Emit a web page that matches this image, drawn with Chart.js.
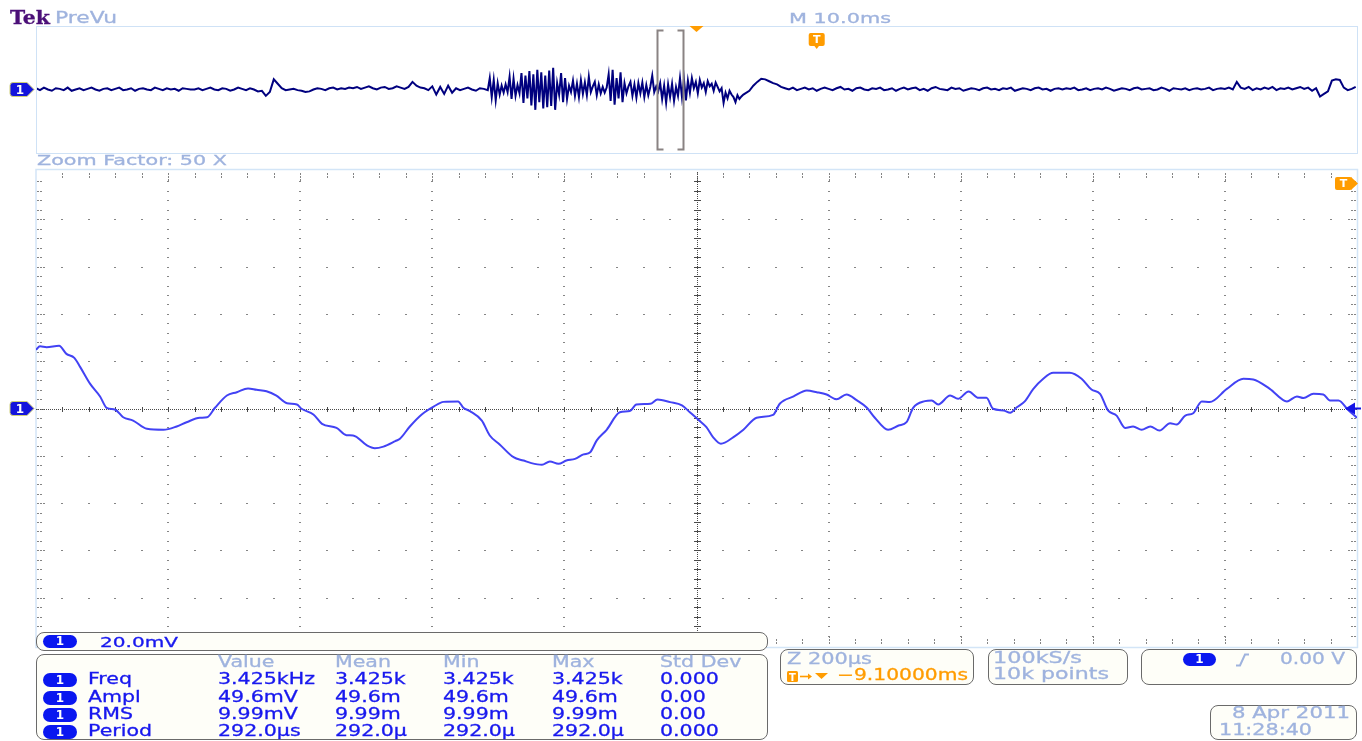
<!DOCTYPE html>
<html>
<head>
<meta charset="utf-8">
<script src="https://cdn.jsdelivr.net/npm/chart.js@4.4.0/dist/chart.umd.min.js"></script>
<style>
  body { margin: 0; background: #fff; width: 1362px; height: 741px; overflow: hidden; position: relative; font-family: 'DejaVu Sans', sans-serif; }
  canvas { position: absolute; left: 0; top: 0; }
  .box { position: absolute; border: 1.5px solid #6a6a6a; border-radius: 8px; background: #fefef8; box-sizing: border-box; }
  .txt { position: absolute; white-space: nowrap; transform-origin: 0 0; -webkit-text-stroke: 0.3px currentColor; }
  .pill { position: absolute; width: 34px; height: 14px; border-radius: 7px; background: #0a17f0; color: #fff; font: bold 12px 'DejaVu Sans', sans-serif; text-align: center; line-height: 14px; }
</style>
</head>
<body>
<canvas id="overview" width="1362" height="170"></canvas>
<canvas id="zoomed" width="1362" height="741"></canvas>
<div id="panel"></div>
<script>
// zoomed window, time in µs (200 µs/div), CH1 in mV (20 mV/div)
const zoomTimeUs = [
  -1000, -994, -984, -965, -954, -942, -933, -918, -903, -893,
  -880, -868, -853, -832, -807, -787, -772, -752, -741, -729,
  -711, -696, -679, -666, -651, -636, -620, -605, -598, -580,
  -567, -545, -530, -520, -499, -487, -474, -456, -449, -434,
  -416, -398, -383, -361, -353, -343, -325, -313, -298, -277,
  -262, -250, -234, -222, -209, -197, -184, -171, -161, -151,
  -136, -116, -101, -91, -70, -59, -40, -22, -10, 3,
  15, 25, 37, 56, 71, 91, 116, 126, 147, 167,
  182, 197, 212, 227, 243, 258, 270, 290, 306, 318,
  328, 346, 356, 366, 384, 396, 412, 427, 439, 449,
  465, 475, 485, 497, 510, 525, 540, 565, 583, 598,
  611, 623, 636, 649, 661, 674, 687, 701, 717, 727,
  740, 752, 765, 777, 803, 828, 843, 868, 894, 909,
  919, 934, 949, 959, 972, 987, 1000
];
const zoomMilliVolts = [
  24.8, 26.3, 25.9, 26.5, 23.1, 21.4, 17.5, 10.4, 5.1, 0.3,
  -0.5, -3.7, -5.1, -8.6, -9.0, -7.6, -5.8, -3.9, -3.7, 0.3,
  5.5, 6.9, 8.5, 7.9, 7.3, 5.4, 2.2, 1.7, -0.1, -2.5,
  -6.5, -8.2, -11.3, -11.4, -15.6, -16.8, -16.1, -13.8, -12.8, -7.6,
  -2.5, 0.8, 2.8, 3.0, 0.3, -1.1, -5.1, -11.4, -15.2, -20.6,
  -22.0, -23.1, -23.8, -22.4, -23.4, -22.0, -21.3, -19.4, -18.5, -13.5,
  -9.0, -1.6, -1.1, 1.7, 2.0, 3.8, 2.7, 1.3, -1.6, -4.8,
  -7.9, -12.1, -14.9, -12.1, -9.0, -3.9, -2.7, 2.0, 5.1, 7.6,
  6.9, 5.9, 3.9, 5.9, 3.4, 0.3, -3.9, -9.0, -7.2, -5.8,
  0.3, 3.1, 3.4, 1.7, 5.5, 4.1, 7.2, 4.5, 4.5, -0.1,
  -0.8, -1.8, 0.5, 3.0, 8.3, 12.6, 15.1, 15.1, 12.6, 8.0,
  6.2, -0.8, -3.0, -8.2, -7.6, -9.0, -7.6, -9.3, -6.2, -6.8,
  -3.0, -2.0, 3.0, 2.7, 8.3, 12.6, 12.3, 8.3, 3.0, 5.1,
  4.4, 6.2, 5.9, 3.4, 3.4, -0.8, -3.9
];

// full record (PreVu), ms from trigger, mV
const preStartMs = -59.1, preStepMs = 0.3;
const preMilliVolts = [
  2, -1, 3, 0, -2, 2, 1, -1, 3, -2, 0, 2, -1, 1, 3, 0, -2, 1, 2, -1,
  1, 3, -1, 0, 2, -2, 1, 2, 0, -1, 3, 1, -1, 2, 0, 1, -2, 2, 1, 0,
  0, 2, -1, 1, 3, 0, -1, 2, 1, -2, 0, 3, 1, -1, 2, 0, -3, -2, -10, -4,
  16, 9, 2, -1, 0, 1, -1, -2, -4, -3, 0, 2, 1, -1, 2, 3, 0, 2, 1, 3,
  2, 4, 1, 3, 5, 2, 0, 3, 4, 1, 2, 5, 3, 1, 4, 12, 6, 3, 2, -1,
  5, -8, 4, -7, 6, -5, 2, -1, 1, 3, 0, -2, 2, 1, -1
];
const burstStartMs = -24.75, burstStepMs = 0.15;
const burstMilliVolts = [
  18, -12, 15, -17, 10, -8, 6, -5, 8, -4,
  20, -15, 17, -10, 7, -6, 26, -21, 22, -14,
  29, -25, 24, -32, 31, -20, 27, -30, 22, -28, 30, -26, 34, -32,
  10, -8, 26, -20, 18, -15, 6, -4,
  14, -10, 9, -12, 15, -7, 11, -9, 20, -4, 5,
  12, -9, 8, -6, 4, -5, 3,
  24, -18, 31, -24, 18, -14, 27, -20, 10, -6, 5,
  12, -10, 8, -13, 10, -6, 11, -12, 7, -9, 4, 22, -4, 5, -3,
  10, -15, 6, -21, 8, -12, 9, -18, 4, -10,
  18, -12, 16, -17, 14,
  -5, 18, 2, 12, -6, 15, 3, 10, -4, 13, 5, 9, -2, 11, 4,
  -3, 2, -21, -5, -14, -2, -8, -12, -20, -9, -15, -11, -8
];
const postStartMs = -5.1, postStepMs = 0.3;
const postMilliVolts = [
  -2, 6, 12, 17, 16, 13, 10, 8, 4, 2, 0, 3, -1, 1, 3, 0, 2, -2, 1, 3,
  1, -1, 2, 4, 0, 1, -2, 2, 3, 0, -1, 2, 1, 3, -1, 0, 2, -2, 1, 3,
  0, 2, 3, -1, 1, -2, 2, 4, 1, 0, -1, 3, 1, 2, -2, 0, 2, 1, -1, 2,
  3, 0, 1, -1, 2, 1, 3, -2, 0, 2, 1, -1, 2, 3, 0, 1, -2, 1, 2, 0,
  2, 1, 3, -1, 0, 2, -1, 1, 2, 0, 3, 1, -2, 0, 2, 1, -1, 2, 3, 0,
  1, 2, -1, 0, 3, 1, -2, 2, 1, 0, 2, -1, 1, 2, 0, 1, 3, -1, 1, 2,
  1, 3, 0, 12, 3, 1, 4, -1, 2, 0, 3, 1, 4, -1, 2, 1, 3, 0, 2, 4,
  1, 3, -2, 2, -11, -7, -3, 14, 16, 15, 3, -1, 1, 4
];
const triggerMs = 0;
const zoomPositionMs = -9.1;
const zoomWindowMs = [-12.1, -10.1];

// measurement readout
const measNames = ['Freq', 'Ampl', 'RMS', 'Period'];
const measHeaders = ['Value', 'Mean', 'Min', 'Max', 'Std Dev'];
const measValue = ['3.425kHz', '49.6mV', '9.99mV', '292.0µs'];
const measMean = ['3.425k', '49.6m', '9.99m', '292.0µ'];
const measMin = ['3.425k', '49.6m', '9.99m', '292.0µ'];
const measMax = ['3.425k', '49.6m', '9.99m', '292.0µ'];
const measStdDev = ['0.000', '0.00', '0.00', '0.000'];

const X_MIN = -1000, X_MAX = 1000, X_DIV = 200;
const Y_MIN = -100, Y_MAX = 100, Y_DIV = 20, SUB = 5;

const LIGHT = '#9fb3de';
const BLUE = '#1818ee';
const ORANGE = '#ff9c00';

function samples(start, step, values) {
  return values.map((v, i) => ({ x: start + i * step, y: v }));
}

function drawTag(ctx, x, yc) {
  ctx.save();
  ctx.beginPath();
  ctx.moveTo(x + 3, yc - 7);
  ctx.lineTo(x + 17, yc - 7);
  ctx.lineTo(x + 24, yc);
  ctx.lineTo(x + 17, yc + 7);
  ctx.lineTo(x + 3, yc + 7);
  ctx.quadraticCurveTo(x, yc + 7, x, yc + 4);
  ctx.lineTo(x, yc - 4);
  ctx.quadraticCurveTo(x, yc - 7, x + 3, yc - 7);
  ctx.closePath();
  ctx.fillStyle = '#1414dc';
  ctx.fill();
  ctx.strokeStyle = '#cfcf78';
  ctx.lineWidth = 1;
  ctx.stroke();
  ctx.fillStyle = '#fff';
  ctx.font = 'bold 12px "DejaVu Sans"';
  ctx.textAlign = 'center';
  ctx.textBaseline = 'middle';
  ctx.fillText('1', x + 10, yc + 1);
  ctx.restore();
}

function drawT(ctx, x, y, w, h) {
  ctx.save();
  ctx.fillStyle = ORANGE;
  ctx.beginPath();
  ctx.roundRect(x, y, w, h, 2);
  ctx.fill();
  ctx.fillStyle = '#fff';
  ctx.font = 'bold 11px "DejaVu Sans"';
  ctx.textAlign = 'center';
  ctx.textBaseline = 'middle';
  ctx.fillText('T', x + w / 2, y + h / 2 + 1);
  ctx.restore();
}

const graticule = {
  id: 'graticule',
  beforeDatasetsDraw(chart) {
    const { ctx, chartArea: a, scales: { x, y } } = chart;
    const nx = (X_MAX - X_MIN) / X_DIV, ny = (Y_MAX - Y_MIN) / Y_DIV;
    ctx.save();
    ctx.strokeStyle = '#d3e5f7';
    ctx.lineWidth = 1.5;
    ctx.strokeRect(a.left, a.top - 2.5, a.right - a.left + 0.5, a.bottom - a.top + 5);

    ctx.fillStyle = '#858585';
    for (let j = 1; j < ny; j++) {
      const v = Y_MIN + j * Y_DIV;
      if (v === 0) continue;
      const py = Math.round(y.getPixelForValue(v));
      for (let i = 1; i < nx * SUB; i++) {
        const px = Math.round(x.getPixelForValue(X_MIN + i * X_DIV / SUB));
        ctx.fillRect(px - 1, py, 2, 1);
      }
    }
    for (let i = 1; i < nx; i++) {
      const u = X_MIN + i * X_DIV;
      if (u === 0) continue;
      const px = Math.round(x.getPixelForValue(u));
      for (let j = 1; j < ny * SUB; j++) {
        const py = Math.round(y.getPixelForValue(Y_MIN + j * Y_DIV / SUB));
        ctx.fillRect(px - 1, py, 2, 1);
      }
    }
    // edge ticks
    for (let j = 1; j < ny * SUB; j++) {
      const py = Math.round(y.getPixelForValue(Y_MIN + j * Y_DIV / SUB));
      const n = j % SUB === 0 ? 3 : 2;
      for (let k = 0; k < n; k++) {
        ctx.fillRect(a.left + 1 + k * 3, py, 2, 1);
        ctx.fillRect(a.right - 3 - k * 3, py, 2, 1);
      }
    }
    for (let i = 1; i < nx * SUB; i++) {
      const px = Math.round(x.getPixelForValue(X_MIN + i * X_DIV / SUB));
      const n = i % SUB === 0 ? 3 : 2;
      for (let k = 0; k < n; k++) {
        ctx.fillRect(px, a.top + 1 + k * 3, 1, 2);
        ctx.fillRect(px, a.bottom - 3 - k * 3, 1, 2);
      }
    }
    // centre cross
    const cx = Math.round(x.getPixelForValue(0)), cy = Math.round(y.getPixelForValue(0));
    ctx.fillStyle = '#4a4a4a';
    for (let px = Math.round(a.left); px <= a.right; px += 2) ctx.fillRect(px, cy, 1, 1);
    for (let py = Math.round(a.top); py <= a.bottom; py += 2) ctx.fillRect(cx, py, 1, 1);
    for (let i = 1; i < nx * SUB; i++) {
      const px = Math.round(x.getPixelForValue(X_MIN + i * X_DIV / SUB));
      ctx.fillRect(px, cy - 2, 1, 5);
    }
    for (let j = 1; j < ny * SUB; j++) {
      const py = Math.round(y.getPixelForValue(Y_MIN + j * Y_DIV / SUB));
      ctx.fillRect(cx - 3, py, 7, 1);
    }
    ctx.restore();
  },
  afterDraw(chart) {
    const { ctx, chartArea: a, scales: { y } } = chart;
    const cy = y.getPixelForValue(0);
    drawTag(ctx, 10, cy);
    ctx.save();
    ctx.fillStyle = '#1414e6';
    ctx.beginPath();
    ctx.moveTo(a.right - 12, cy);
    ctx.lineTo(a.right - 2, cy - 6);
    ctx.lineTo(a.right - 2, cy + 6);
    ctx.closePath();
    ctx.fill();
    ctx.fillRect(a.right - 2, cy - 1, 6, 2);
    // trigger is off-screen to the right
    ctx.fillStyle = ORANGE;
    ctx.beginPath();
    ctx.moveTo(a.right - 6, a.top + 5);
    ctx.lineTo(a.right + 1, a.top + 11.5);
    ctx.lineTo(a.right - 6, a.top + 18);
    ctx.closePath();
    ctx.fill();
    ctx.restore();
    drawT(ctx, a.right - 22, a.top + 5, 17, 13);
  }
};

const prevu = {
  id: 'prevu',
  afterDraw(chart) {
    const { ctx, chartArea: a, scales: { x, y } } = chart;
    ctx.save();
    ctx.strokeStyle = '#cfe2f6';
    ctx.lineWidth = 1;
    ctx.strokeRect(a.left + 0.5, a.top + 0.5, a.right - a.left, a.bottom - a.top);
    // zoom window brackets
    const x1 = Math.round(x.getPixelForValue(zoomWindowMs[0])) + 0.5;
    const x2 = Math.round(x.getPixelForValue(zoomWindowMs[1])) + 0.5;
    const t = a.top + 4.5, b = a.bottom - 3.5;
    ctx.strokeStyle = '#8a8383';
    ctx.lineWidth = 2;
    ctx.beginPath();
    ctx.moveTo(x1 + 6, t); ctx.lineTo(x1, t); ctx.lineTo(x1, b); ctx.lineTo(x1 + 6, b);
    ctx.moveTo(x2 - 6, t); ctx.lineTo(x2, t); ctx.lineTo(x2, b); ctx.lineTo(x2 - 6, b);
    ctx.stroke();
    // zoom position marker
    const zp = x.getPixelForValue(zoomPositionMs);
    ctx.fillStyle = ORANGE;
    ctx.beginPath();
    ctx.moveTo(zp - 7, a.top);
    ctx.lineTo(zp + 7, a.top);
    ctx.lineTo(zp, a.top + 6);
    ctx.closePath();
    ctx.fill();
    // trigger marker
    const tp = x.getPixelForValue(triggerMs);
    ctx.beginPath();
    ctx.moveTo(tp - 3, a.top + 19);
    ctx.lineTo(tp + 3, a.top + 19);
    ctx.lineTo(tp, a.top + 23);
    ctx.closePath();
    ctx.fill();
    ctx.restore();
    drawT(ctx, tp - 8, a.top + 7, 16, 13);
    drawTag(ctx, 10, y.getPixelForValue(0));
  }
};

Chart.defaults.animation = false;

new Chart(document.getElementById('overview'), {
  type: 'line',
  data: {
    datasets: [{
      data: [
        ...samples(preStartMs, preStepMs, preMilliVolts),
        ...samples(burstStartMs, burstStepMs, burstMilliVolts),
        ...samples(postStartMs, postStepMs, postMilliVolts)
      ],
      borderColor: '#00007f',
      borderWidth: 2,
      pointRadius: 0,
      tension: 0
    }]
  },
  options: {
    responsive: false,
    devicePixelRatio: 1,
    layout: { padding: { left: 36, right: 5, top: 26, bottom: 17 } },
    plugins: { legend: { display: false }, tooltip: { enabled: false } },
    scales: {
      x: { type: 'linear', min: -59.1, max: 40.9, display: false },
      y: { min: Y_MIN, max: Y_MAX, display: false }
    }
  },
  plugins: [prevu]
});

new Chart(document.getElementById('zoomed'), {
  type: 'line',
  data: {
    datasets: [{
      data: zoomTimeUs.map((t, i) => ({ x: t, y: zoomMilliVolts[i] })),
      borderColor: '#4242f4',
      borderWidth: 2,
      pointRadius: 0,
      cubicInterpolationMode: 'monotone'
    }]
  },
  options: {
    responsive: false,
    devicePixelRatio: 1,
    layout: { padding: { left: 36, right: 5, top: 172, bottom: 96 } },
    plugins: { legend: { display: false }, tooltip: { enabled: false } },
    scales: {
      x: { type: 'linear', min: X_MIN, max: X_MAX, display: false },
      y: { min: Y_MIN, max: Y_MAX, display: false }
    }
  },
  plugins: [graticule]
});

// readout panel
const panel = document.getElementById('panel');

function addBox(x, y, w, h) {
  const el = document.createElement('div');
  el.className = 'box';
  Object.assign(el.style, { left: x + 'px', top: y + 'px', width: w + 'px', height: h + 'px' });
  panel.appendChild(el);
}

function addPill(x, y, w, h) {
  const el = document.createElement('div');
  el.className = 'pill';
  el.textContent = '1';
  Object.assign(el.style, { left: x + 'px', top: y + 'px', width: (w || 34) + 'px', height: (h || 14) + 'px', lineHeight: (h || 14) + 'px' });
  panel.appendChild(el);
}

function addText(str, x, capTop, color, opts = {}) {
  const size = opts.size || 15;
  const el = document.createElement('div');
  el.className = 'txt';
  el.textContent = str;
  el.style.fontSize = size + 'px';
  el.style.lineHeight = size + 'px';
  el.style.color = color;
  if (opts.font) el.style.fontFamily = opts.font;
  if (opts.bold) el.style.fontWeight = 'bold';
  el.style.left = x + 'px';
  el.style.top = (capTop - size * 0.117) + 'px';
  panel.appendChild(el);
  const natural = el.getBoundingClientRect().width;
  const sx = opts.width ? opts.width / natural : (opts.scale || 1.37);
  el.style.transform = `scaleX(${sx})`;
  return el;
}

addText('Tek', 10, 11, '#4b0f78', { size: 18, font: '"DejaVu Serif", serif', bold: true, width: 40 });
addText('PreVu', 55, 12, LIGHT, { size: 16, width: 62 });
addText('M 10.0ms', 789, 13, LIGHT, { size: 14, width: 102 });
addText('Zoom Factor: 50 X', 37, 155, LIGHT, { size: 14, width: 190 });

addBox(36, 632, 732, 19);
addPill(43, 635, 34, 13);
addText('20.0mV', 100, 637, BLUE, { size: 14, width: 78 });

addBox(36, 654, 732, 86);
const colX = [218, 335, 443, 552, 660];
const rowTop = [674, 691.5, 709, 725.5];
measHeaders.forEach((h, c) => addText(h, colX[c], 657, LIGHT));
const columns = [measValue, measMean, measMin, measMax, measStdDev];
measNames.forEach((name, r) => {
  addPill(43, rowTop[r] - 1);
  addText(name, 88, rowTop[r], BLUE);
  columns.forEach((col, c) => addText(col[r], colX[c], rowTop[r], BLUE));
});

addBox(780, 649, 194, 36);
addText('Z 200µs', 787, 654, LIGHT, { width: 85 });
const trig = document.createElement('div');
trig.innerHTML = `<svg width="46" height="14" viewBox="0 0 46 14">
  <rect x="0" y="1" width="11" height="11" rx="1.5" fill="${ORANGE}"/>
  <text x="5.5" y="10.5" font-family="DejaVu Sans" font-weight="bold" font-size="10" fill="#fff" text-anchor="middle">T</text>
  <line x1="13" y1="6.5" x2="22" y2="6.5" stroke="${ORANGE}" stroke-width="1.6"/>
  <polygon points="21,3.5 25,6.5 21,9.5" fill="${ORANGE}"/>
  <polygon points="28,3 41,3 34.5,9" fill="${ORANGE}"/>
</svg>`;
Object.assign(trig.style, { position: 'absolute', left: '787px', top: '669px' });
panel.appendChild(trig);
addText('\u22129.10000ms', 837, 670, ORANGE, { width: 131 });

addBox(988, 649, 140, 36);
addText('100kS/s', 993, 653, LIGHT, { width: 89 });
addText('10k points', 993, 669, LIGHT, { width: 116 });

addBox(1141, 649, 216, 36);
addPill(1183, 653, 33, 13);
const edge = document.createElement('div');
edge.innerHTML = `<svg width="16" height="14" viewBox="0 0 16 14">
  <path d="M1 12.5 L5 12.5 L10 1.5 L14 1.5" fill="none" stroke="${LIGHT}" stroke-width="2"/>
</svg>`;
Object.assign(edge.style, { position: 'absolute', left: '1235px', top: '652px' });
panel.appendChild(edge);
addText('0.00 V', 1280, 654, LIGHT, { width: 65 });

addBox(1210, 705, 147, 35);
addText('8 Apr 2011', 1232, 708, LIGHT, { width: 118 });
addText('11:28:40', 1219, 725, LIGHT, { width: 93 });
</script>
</body>
</html>
